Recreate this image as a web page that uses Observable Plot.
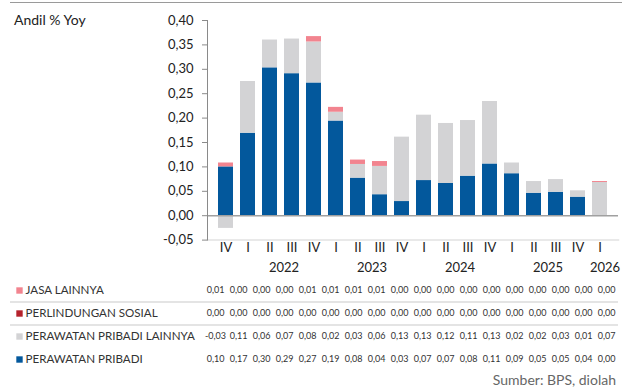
<!DOCTYPE html>
<html>
<head>
<meta charset="utf-8">
<script src="https://cdn.jsdelivr.net/npm/d3@7"></script>
<script src="https://cdn.jsdelivr.net/npm/@observablehq/plot@0.6"></script>
<style>
  body { margin: 0; background: #fff; font-family: Lato, "Open Sans", sans-serif; }
  #wrap { position: relative; width: 638px; height: 390px; overflow: hidden; }
  #topline { position: absolute; left: 10px; top: 2px; width: 612px; border-top: 1.5px solid #9a9a9a; }
  #title { position: absolute; left: 14px; top: 11px; font-size: 14px; color: #222; }
  #chart { position: absolute; left: 0; top: 0; }
  #table { position: absolute; left: 0; top: 280px; }
  #source { position: absolute; right: 22px; top: 371px; font-size: 14px; color: #666; }
</style>
</head>
<body>
<div id="wrap">
  <div id="topline"></div>
  <div id="chart"></div>
  <div id="table"></div>
  <div id="title">Andil % Yoy</div>
  <div id="source">Sumber: BPS, diolah</div>
</div>
<script>
const quarters = ["IV","I","II","III","IV","I","II","III","IV","I","II","III","IV","I","II","III","IV","I"];
const years    = [2021,2022,2022,2022,2022,2023,2023,2023,2023,2024,2024,2024,2024,2025,2025,2025,2025,2026];
const yearKeys   = ["II-2022", "II-2023", "II-2024", "II-2025"];
const yearLabels = ["2022", "2023", "2024", "2025"];
const lastYearKey = "I-2026";
const lastYearLabel = "2026";
const seriesNames = ["PERAWATAN PRIBADI", "PERAWATAN PRIBADI LAINNYA", "PERLINDUNGAN SOSIAL", "JASA LAINNYA"];
const seriesColors = ["#03589c", "#d3d3d5", "#b5222c", "#f2848f"];

const perawatanPribadi = [0.100,0.169,0.303,0.291,0.272,0.194,0.077,0.043,0.029,0.072,0.066,0.081,0.106,0.086,0.046,0.048,0.038,0.000];
const perawatanLainnya = [-0.026,0.106,0.057,0.071,0.084,0.018,0.028,0.058,0.132,0.134,0.123,0.114,0.128,0.022,0.024,0.026,0.013,0.068];
const perlindunganSosial = [0,0,0,0,0,0,0,0,0,0,0,0,0,0,0,0,0,0];
const jasaLainnya = [0.008,0,0,0,0.011,0.010,0.009,0.010,0,0,0,0,0,0,0,0,0,0.002];
const yTicks = [-0.05,0,0.05,0.10,0.15,0.20,0.25,0.30,0.35,0.40];

const keys = quarters.map((q, i) => q + "-" + years[i]);
const seriesValues = [perawatanPribadi, perawatanLainnya, perlindunganSosial, jasaLainnya];
const rows = [];
seriesNames.forEach((s, si) => keys.forEach((k, i) => rows.push({key: k, series: s, value: seriesValues[si][i]})));
const fmt = v => v.toFixed(2).replace(".", ",");

const xScale = {domain: keys, padding: 0.34, axis: null};

const chart = Plot.plot({
  width: 622,
  height: 280,
  marginLeft: 207,
  marginRight: 4,
  marginTop: 20,
  marginBottom: 40.4,
  style: {fontFamily: "Lato, 'Open Sans', sans-serif", fontSize: "13px", color: "#222", background: "transparent"},
  x: xScale,
  y: {domain: [-0.05, 0.40], axis: null, label: null},
  color: {domain: seriesNames, range: seriesColors},
  marks: [
    Plot.barY(rows, {x: "key", y: "value", fill: "series", order: seriesNames}),
    Plot.ruleY([0], {stroke: "#a0a0a0", strokeWidth: 1.5}),
    Plot.frame({anchor: "bottom", stroke: "#e2e2e2", strokeWidth: 1.5}),
    Plot.frame({anchor: "left", stroke: "#8a8a8a"}),
    Plot.axisY({ticks: yTicks, tickFormat: fmt, tickSize: 5, tickPadding: 9, stroke: "#8a8a8a", fontSize: 13, label: null}),
    Plot.text(keys, {x: d => d, text: (d, i) => quarters[i], frameAnchor: "bottom", dy: 8, lineAnchor: "middle", fontSize: 13, fill: "#222"}),
    Plot.text(yearKeys, {x: d => d, text: (d, i) => yearLabels[i], dx: 14, frameAnchor: "bottom", dy: 28, lineAnchor: "middle", fontSize: 13, fill: "#222"}),
    Plot.text([lastYearKey], {x: d => d, text: () => lastYearLabel, dx: 5, frameAnchor: "bottom", dy: 28, lineAnchor: "middle", fontSize: 13, fill: "#222"})
  ]
});
document.getElementById("chart").appendChild(chart);

const table = Plot.plot({
  width: 622,
  height: 90,
  marginLeft: 207,
  marginRight: 4,
  marginTop: 0,
  marginBottom: 0,
  style: {fontFamily: "Lato, 'Open Sans', sans-serif", fontSize: "9px", color: "#333", background: "transparent"},
  x: xScale,
  y: {type: "point", domain: seriesNames.slice().reverse(), range: [10, 79], padding: 0, axis: null},
  marks: [
    Plot.ruleY(seriesNames.slice(1), {y: d => d, dy: -11.5, stroke: "#e4e4e4", strokeWidth: 2, insetLeft: -197}),
    Plot.dot(seriesNames, {y: d => d, frameAnchor: "left", dx: -188, symbol: "square", r: 3.6, fill: (d, i) => seriesColors[i], stroke: null}),
    Plot.text(seriesNames, {y: d => d, text: d => d, frameAnchor: "left", dx: -182, textAnchor: "start", fontSize: 11.6, fill: "#333"}),
    Plot.text(rows, {x: "key", y: "series", text: d => fmt(d.value), dx: -2, fontSize: 9, fill: "#333"})
  ]
});
document.getElementById("table").appendChild(table);
</script>
</body>
</html>
